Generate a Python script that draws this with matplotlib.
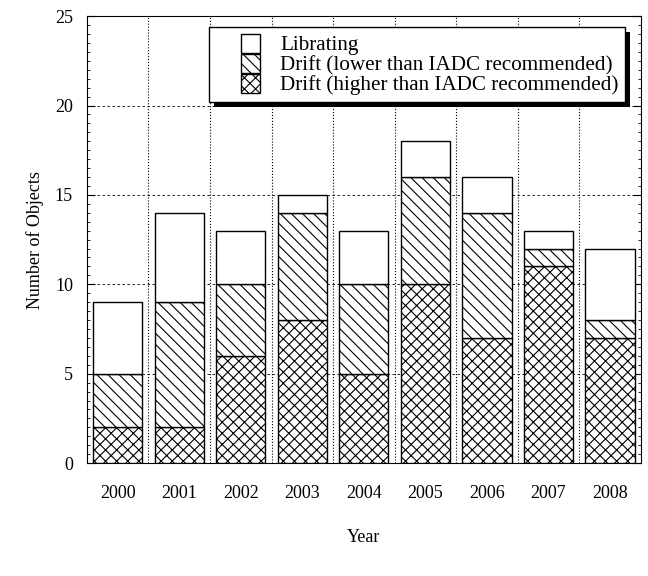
import numpy as np
import matplotlib.pyplot as plt
from matplotlib.patches import Rectangle
from matplotlib.legend_handler import HandlerPatch
from matplotlib.ticker import MultipleLocator

plt.rcParams['font.family'] = ['Liberation Serif', 'DejaVu Serif']
plt.rcParams['hatch.linewidth'] = 0.8

years = ['2000', '2001', '2002', '2003', '2004', '2005', '2006', '2007', '2008']
drift_high = [2, 2, 6, 8, 5, 10, 7, 11, 7]
drift_low = [3, 7, 4, 6, 5, 6, 7, 1, 1]
librating = [4, 5, 3, 1, 3, 2, 2, 1, 4]
labels = ['Librating', 'Drift (lower than IADC recommended)', 'Drift (higher than IADC recommended)']

x = np.arange(len(years))
w = 0.8

fig = plt.figure(figsize=(6.48, 5.76), dpi=100)
ax = fig.add_axes([0.134, 0.196, 0.855, 0.776])

hi = np.array(drift_high)
lo = np.array(drift_low)
b3 = ax.bar(x, drift_high, w, color='white', edgecolor='black', hatch='xxx', lw=1, zorder=3)
b2 = ax.bar(x, drift_low, w, bottom=hi, color='white', edgecolor='black', hatch='\\\\\\', lw=1, zorder=3)
b1 = ax.bar(x, librating, w, bottom=hi + lo, color='white', edgecolor='black', lw=1, zorder=3)

ax.set_xlim(-0.5, 8.5)
ax.set_ylim(0, 25)
ax.set_xticks(x)
ax.set_xticklabels(years)
ax.set_yticks(range(0, 26, 5))
ax.set_xticks(x[:-1] + 0.5, minor=True)
ax.yaxis.set_minor_locator(MultipleLocator(0.5))
ax.grid(True, which='minor', axis='x', ls=':', color='black', lw=0.8, zorder=0)
ax.grid(True, which='major', axis='y', ls=(0, (3, 3)), color='black', lw=0.6, zorder=0)
ax.tick_params(which='major', labelsize=13, direction='in', length=6, right=True)
ax.tick_params(axis='x', which='major', pad=16, length=0)
ax.tick_params(axis='y', which='major', pad=10)
ax.tick_params(axis='y', which='minor', direction='in', length=2.5, right=True)
ax.tick_params(axis='x', which='minor', length=0)
ax.set_xlabel('Year', fontsize=13, labelpad=19)
ax.set_ylabel('Number of Objects', fontsize=13, labelpad=8)


def box_handle(legend, orig_handle, xdescent, ydescent, width, height, fontsize):
    return Rectangle((width - height - xdescent, -ydescent), height, height)


handles = [b1.patches[0], b2.patches[0], b3.patches[0]]
leg = ax.legend(handles, labels,
                loc='upper right', bbox_to_anchor=(0.971, 0.975), borderaxespad=0,
                fontsize=15.2, fancybox=False, shadow=False, framealpha=1, edgecolor='black',
                handlelength=2.1, handleheight=1.0, handletextpad=0.95,
                labelspacing=-0.08, borderpad=0.3,
                handler_map={h: HandlerPatch(patch_func=box_handle) for h in handles})
leg.get_frame().set_linewidth(1)
leg.set_zorder(6)

# gnuplot-like drop shadow, drawn inside the axes just under the legend
fig.canvas.draw()
bb = leg.get_window_extent().transformed(fig.transFigure.inverted())
dx, dy = 5 / 648, 5 / 576
shadow = Rectangle((bb.x0 + dx, bb.y0 - dy), bb.width, bb.height,
                   transform=fig.transFigure, facecolor='black',
                   edgecolor='none', zorder=5, clip_on=False)
ax.add_artist(shadow)

fig.savefig('out.png', dpi=100)
